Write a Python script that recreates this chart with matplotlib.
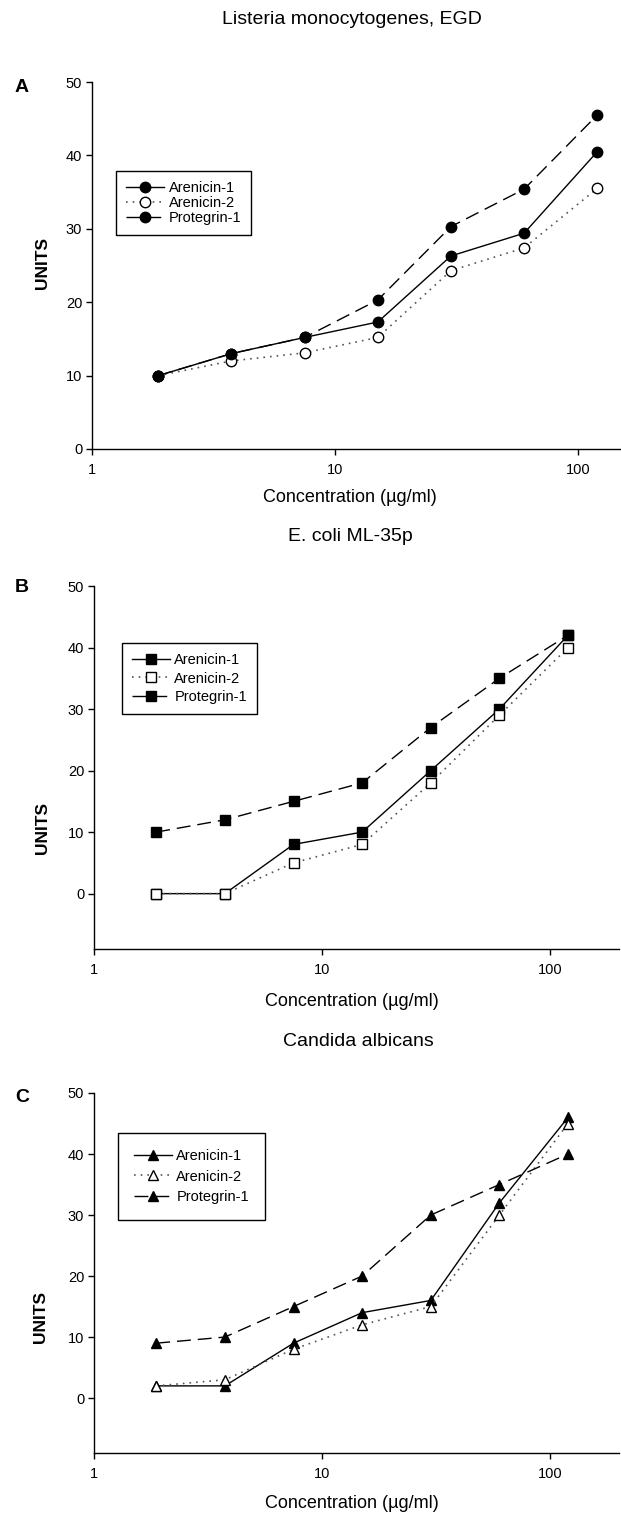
import matplotlib
matplotlib.use("Agg")
import matplotlib.pyplot as plt

plt.rcParams['font.family'] = ['Liberation Sans', 'DejaVu Sans']

# concentrations (ug/ml), two-fold dilutions
conc = [1.875, 3.75, 7.5, 15, 30, 60, 120]

# A: Listeria monocytogenes, EGD
lis_are1 = [10, 13, 15.2, 17.3, 26.3, 29.4, 40.5]
lis_are2 = [10, 12, 13.1, 15.2, 24.3, 27.4, 35.5]
lis_prot = [10, 13, 15.2, 20.3, 30.3, 35.4, 45.5]

# B: E. coli ML-35p
eco_are1 = [0, 0, 8, 10, 20, 30, 42]
eco_are2 = [0, 0, 5, 8, 18, 29, 40]
eco_prot = [10, 12, 15, 18, 27, 35, 42]

# C: Candida albicans
can_are1 = [2, 2, 9, 14, 16, 32, 46]
can_are2 = [2, 3, 8, 12, 15, 30, 45]
can_prot = [9, 10, 15, 20, 30, 35, 40]

names = ['Arenicin-1', 'Arenicin-2', 'Protegrin-1']
titles = ['Listeria monocytogenes, EGD', 'E. coli ML-35p', 'Candida albicans']
letters = ['A', 'B', 'C']

W, H = 621, 1520
fig = plt.figure(figsize=(W / 100, H / 100), dpi=100)


def px(x, y):
    return x / W, 1 - y / H


def add_axes(left, top, bottom, decade):
    width = decade * 2.30103
    return fig.add_axes([left / W, 1 - bottom / H, width / W, (bottom - top) / H])


panels = [
    # left, top, bottom, px per decade, ymin, legend anchor, labelspacing, borderpad
    dict(geo=(92, 82, 449, 243), ymin=0, leg=(0.043, 0.757), ls=0.05, bp=0.7,
         data=(lis_are1, lis_are2, lis_prot), mk='o', ms=7.5,
         title=(352, 20), xlab=(350, 497), ylab=(42, 263), let=(22, 87)),
    dict(geo=(94, 586, 949, 228), ymin=-9, leg=(0.053, 0.843), ls=0.3, bp=0.7,
         data=(eco_are1, eco_are2, eco_prot), mk='s', ms=6.5,
         title=(350, 537), xlab=(352, 1002), ylab=(42, 828), let=(22, 587)),
    dict(geo=(94, 1093, 1453, 228), ymin=-9, leg=(0.046, 0.889), ls=0.45, bp=1.1,
         data=(can_are1, can_are2, can_prot), mk='^', ms=7.5,
         title=(358, 1042), xlab=(352, 1503), ylab=(40, 1317), let=(22, 1098)),
]

for i, p in enumerate(panels):
    ax = add_axes(*p['geo'])
    a1, a2, pr = p['data']
    ax.plot(conc, a1, color='black', lw=1.0, ls='-', marker=p['mk'], ms=p['ms'],
            mfc='black', mec='black', label=names[0], zorder=3)
    ax.plot(conc, a2, color='#555555', lw=1.2, ls=(0, (1, 3)), marker=p['mk'], ms=p['ms'],
            mfc='white', mec='black', mew=1.0, label=names[1], zorder=4)
    ax.plot(conc, pr, color='black', lw=1.0, ls=(0, (10, 5)), marker=p['mk'], ms=p['ms'],
            mfc='black', mec='black', label=names[2], zorder=5)

    ax.set_xscale('log')
    ax.set_xlim(1, 200)
    ax.set_ylim(p['ymin'], 50)
    ax.set_xticks([1, 10, 100])
    ax.set_xticklabels(['1', '10', '100'])
    ax.xaxis.set_minor_locator(matplotlib.ticker.NullLocator())
    ax.set_yticks([0, 10, 20, 30, 40, 50])
    for s in ['top', 'right']:
        ax.spines[s].set_visible(False)
    for s in ['left', 'bottom']:
        ax.spines[s].set_linewidth(1.0)
    ax.tick_params(direction='out', length=4, width=1, labelsize=10.5, pad=3)
    ax.tick_params(axis='x', pad=6)

    leg = ax.legend(loc='upper left', bbox_to_anchor=p['leg'], borderaxespad=0,
                    fontsize=10.5, handlelength=2.6, handletextpad=0.3,
                    labelspacing=p['ls'], borderpad=p['bp'], fancybox=False,
                    framealpha=1, edgecolor='black')
    leg.get_frame().set_linewidth(1.0)

    fig.text(*px(*p['title']), titles[i], ha='center', va='center', fontsize=14)
    fig.text(*px(*p['xlab']), 'Concentration (\u00b5g/ml)', ha='center', va='center', fontsize=13)
    fig.text(*px(*p['ylab']), 'UNITS', ha='center', va='center', fontsize=12.5,
             fontweight='bold', rotation=90)
    fig.text(*px(*p['let']), letters[i], ha='center', va='center',
             fontsize=14, fontweight='bold')

fig.savefig('out.png', dpi=100)
